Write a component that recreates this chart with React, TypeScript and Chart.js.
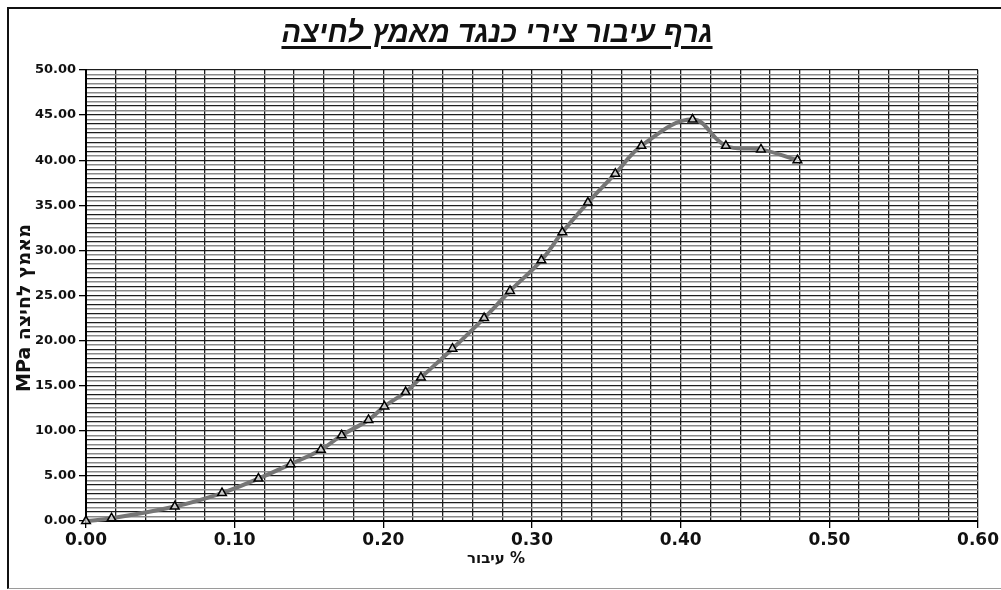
import React, { useEffect, useRef } from "react";
import { Chart, registerables } from "chart.js";

Chart.register(...registerables);

// ---- data ----
const strainPct: number[] = [0, 0.0172, 0.0597, 0.0915, 0.116, 0.1376, 0.158, 0.172, 0.19, 0.2007, 0.215, 0.2253, 0.2465, 0.2678, 0.2852, 0.3063, 0.3204, 0.3376, 0.356, 0.3736, 0.408, 0.4304, 0.454, 0.4785];
const stressMPa: number[] = [0, 0.3, 1.6, 3.1, 4.7, 6.3, 7.9, 9.5, 11.2, 12.7, 14.3, 15.9, 19.1, 22.5, 25.5, 28.9, 32.0, 35.3, 38.5, 41.6, 44.5, 41.6, 41.2, 40.0];

const chartTitle = "גרף עיבור צירי כנגד מאמץ לחיצה";
const xAxisTitle = "עיבור %";
const yAxisTitle = "MPa מאמץ לחיצה";

const xMin = 0;
const xMax = 0.6;
const xStep = 0.02;
const xLabelEvery = 0.1;
const yMin = 0;
const yMax = 50;
const yStep = 0.5;
const yLabelEvery = 5;

const isMultiple = (v: number, m: number) => Math.abs(v / m - Math.round(v / m)) < 1e-6;

export default function App() {
  const canvasRef = useRef<HTMLCanvasElement | null>(null);

  useEffect(() => {
    const canvas = canvasRef.current;
    if (!canvas) return;
    const points = strainPct.map((x, i) => ({ x, y: stressMPa[i] }));
    const chart = new Chart(canvas, {
      type: "line",
      data: {
        datasets: [
          {
            data: points,
            borderColor: "#767676",
            borderWidth: 4,
            tension: 0.4,
            pointStyle: "triangle",
            pointRadius: 5,
            pointBorderColor: "#000",
            pointBorderWidth: 1.5,
            pointBackgroundColor: "rgba(255,255,255,0.6)",
            clip: false as any,
          },
        ],
      },
      options: {
        animation: false,
        responsive: false,
        devicePixelRatio: 1,
        events: [],
        layout: { padding: { left: 8, top: 70, right: 22, bottom: 0 } },
        plugins: {
          legend: { display: false },
          tooltip: { enabled: false },
          title: { display: false },
        },
        scales: {
          x: {
            type: "linear",
            min: xMin,
            max: xMax,
            afterFit: (scale: any) => {
              scale.height = 69;
            },
            ticks: {
              stepSize: xStep,
              autoSkip: false,
              maxRotation: 0,
              minRotation: 0,
              padding: 2,
              color: "#111",
              font: { family: "DejaVu Sans", size: 17, weight: "bold" },
              callback: (v: any) => (isMultiple(Number(v), xLabelEvery) ? Number(v).toFixed(2) : ""),
            },
            grid: {
              color: "#1e1e1e",
              lineWidth: 1.3,
              tickLength: 7,
              tickColor: (ctx: any) => (ctx.tick && isMultiple(ctx.tick.value, xLabelEvery) ? "#000" : "rgba(0,0,0,0)"),
            },
            border: { color: "#000", width: 2 },
          },
          y: {
            type: "linear",
            min: yMin,
            max: yMax,
            afterFit: (scale: any) => {
              scale.width = 78;
            },
            ticks: {
              stepSize: yStep,
              autoSkip: false,
              padding: 3,
              color: "#111",
              font: { family: "DejaVu Sans", size: 13, weight: "bold" },
              callback: (v: any) => (isMultiple(Number(v), yLabelEvery) ? Number(v).toFixed(2) : ""),
            },
            grid: {
              color: (ctx: any) => {
                const v = ctx.tick ? ctx.tick.value : 0;
                if (isMultiple(v, 1)) return "#1e1e1e";
                return "#8a8a8a";
              },
              lineWidth: (ctx: any) => {
                const v = ctx.tick ? ctx.tick.value : 0;
                return isMultiple(v, 1) ? 1.3 : 1.6;
              },
              tickLength: 7,
              tickColor: (ctx: any) => (ctx.tick && isMultiple(ctx.tick.value, yLabelEvery) ? "#000" : "rgba(0,0,0,0)"),
            },
            border: { color: "#000", width: 2 },
          },
        },
      },
    });
    return () => chart.destroy();
  }, []);

  return (
    <div
      style={{
        position: "fixed",
        left: 0,
        top: 0,
        width: 1001,
        height: 590,
        overflow: "hidden",
        background: "#fff",
      }}
    >
      <canvas ref={canvasRef} width={1001} height={590} style={{ position: "absolute", left: 0, top: 0, width: 1001, height: 590 }} />
      <div
        style={{
          position: "absolute",
          left: 7,
          top: 7,
          width: 1100,
          height: 579,
          borderLeft: "2px solid #111",
          borderTop: "2px solid #111",
          borderBottom: "1px solid #9a9a9a",
          borderRight: "none",
          pointerEvents: "none",
        }}
      />
      <div
        dir="rtl"
        style={{
          position: "absolute",
          left: 497,
          top: 18,
          transform: "translateX(-50%)",
          whiteSpace: "nowrap",
          fontFamily: "'Liberation Sans', Arial, sans-serif",
          fontSize: 29,
          lineHeight: "29px",
          fontWeight: "bold",
          fontStyle: "italic",
          color: "#111",
          textDecoration: "underline",
          textDecorationThickness: "3px",
          textUnderlineOffset: "4px",
        }}
      >
        {chartTitle}
      </div>
      <div
        style={{
          position: "absolute",
          left: 496,
          top: 558,
          transform: "translate(-50%, -50%)",
          whiteSpace: "nowrap",
          fontFamily: "'DejaVu Sans', sans-serif",
          fontSize: 15,
          lineHeight: "18px",
          fontWeight: "bold",
          color: "#111",
        }}
      >
        {xAxisTitle}
      </div>
      <div
        style={{
          position: "absolute",
          left: 23,
          top: 308,
          transform: "translate(-50%, -50%) rotate(-90deg)",
          whiteSpace: "nowrap",
          fontFamily: "'DejaVu Sans', sans-serif",
          fontSize: 19,
          lineHeight: "22px",
          fontWeight: "bold",
          color: "#111",
        }}
      >
        {yAxisTitle}
      </div>
    </div>
  );
}
